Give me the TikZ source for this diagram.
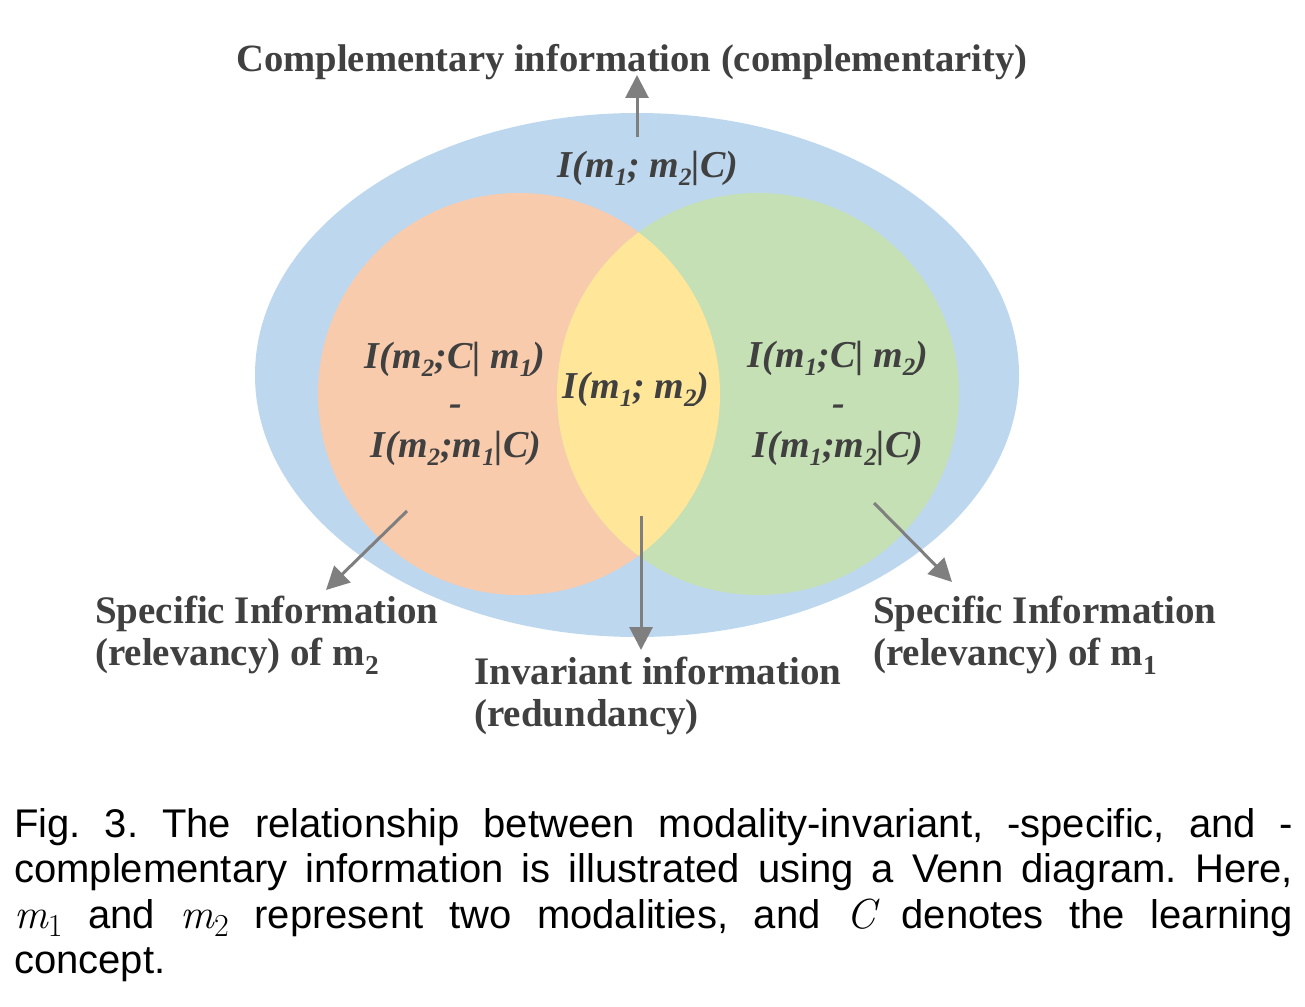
\documentclass[tikz,border=0pt]{standalone}
\usepackage{fontspec}
\setmainfont{Liberation Serif}
\setsansfont{Liberation Sans}
\newfontfamily\lmr{Latin Modern Roman}
\usetikzlibrary{arrows.meta}
\definecolor{blueE}{HTML}{BDD7EE}
\definecolor{orangeC}{HTML}{F8CBAD}
\definecolor{greenC}{HTML}{C5E0B4}
\definecolor{yellowC}{HTML}{FFE699}
\definecolor{txtG}{HTML}{404040}
\definecolor{arrG}{HTML}{7F7F7F}
\newcommand\lsub[1]{\raisebox{-0.22em}{\fontsize{25}{25}\selectfont #1}}
\newcommand\capm[1]{{\lmr\itshape\fontsize{42}{46}\selectfont m}\raisebox{-0.22em}{\lmr\fontsize{32}{32}\selectfont #1}}
\tikzset{
  lbl/.style={font=\fontsize{39}{42}\selectfont\bfseries, text=txtG, inner sep=0pt},
  ttl/.style={font=\fontsize{38.6}{42}\selectfont\bfseries, text=txtG, inner sep=0pt},
  fml/.style={font=\fontsize{38}{42}\selectfont\bfseries\itshape, text=txtG, inner sep=0pt, anchor=base},
  arr/.style={draw=arrG, line width=3pt, -{Triangle[length=23pt,width=23pt]}},
}
\begin{document}
\begin{tikzpicture}[x=1pt,y=-1pt]
\useasboundingbox (0,0) rectangle (1305,1006);
% Venn regions
\fill[blueE] (637,375) ellipse [x radius=382pt, y radius=262pt];
\fill[orangeC] (519,394) circle [radius=201pt];
\fill[greenC] (758,394) circle [radius=201pt];
\begin{scope}
  \clip (519,394) circle [radius=201pt];
  \fill[yellowC] (758,394) circle [radius=201pt];
\end{scope}
% formulas
\node[fml] (comp) at (648,177) {I(m\lsub{1}; m\lsub{2}|C)};
\node[fml] (l1) at (455,368) {I(m\lsub{2};C| m\lsub{1})};
\node[fml] (l2) at (456,415) {-};
\node[fml] (l3) at (456,457) {I(m\lsub{2};m\lsub{1}|C)};
\node[fml] (mid) at (636,398) {I(m\lsub{1}; m\lsub{2})};
\node[fml] (r1) at (838,367) {I(m\lsub{1};C| m\lsub{2})};
\node[fml] (r2) at (839,415) {-};
\node[fml] (r3) at (838,457) {I(m\lsub{1};m\lsub{2}|C)};
% labels
\node[ttl, anchor=base] (title) at (632,72) {Complementary information (complementarity)};
\node[lbl, anchor=base west] (sl1) at (95,623) {Specific Information};
\node[lbl, anchor=base west] (sl2) at (95,665) {(relevancy) of m\textsubscript{2}};
\node[lbl, anchor=base west] (iv1) at (474,684) {Invariant information};
\node[lbl, anchor=base west] (iv2) at (474,726) {(redundancy)};
\node[lbl, anchor=base west] (sr1) at (873,623) {Specific Information};
\node[lbl, anchor=base west] (sr2) at (873,665) {(relevancy) of m\textsubscript{1}};
% arrows
\coordinate (a1s) at (637,137); \coordinate (a1e) at (637,75);
\coordinate (a2s) at (407,511); \coordinate (a2e) at (326,590);
\coordinate (a3s) at (641,516); \coordinate (a3e) at (641,650);
\coordinate (a4s) at (874,503); \coordinate (a4e) at (952,582);
\draw[arr] (a1s) -- (a1e);
\draw[arr] (a2s) -- (a2e);
\draw[arr] (a3s) -- (a3e);
\draw[arr] (a4s) -- (a4e);
% caption
\node[anchor=north west, inner sep=0pt, text width=1279pt, align=justify,
      font=\sffamily\fontsize{40}{45.5}\selectfont\frenchspacing] (cap) at (14,808)
 {Fig. 3. The relationship between modality-invariant, -specific, and -\linebreak
 complementary information is illustrated using a Venn diagram. Here,\linebreak
 \capm{1} and \capm{2} represent two modalities, and {\lmr\itshape\fontsize{42}{46}\selectfont C} denotes the learning\linebreak
 concept.};
\end{tikzpicture}
\end{document}
